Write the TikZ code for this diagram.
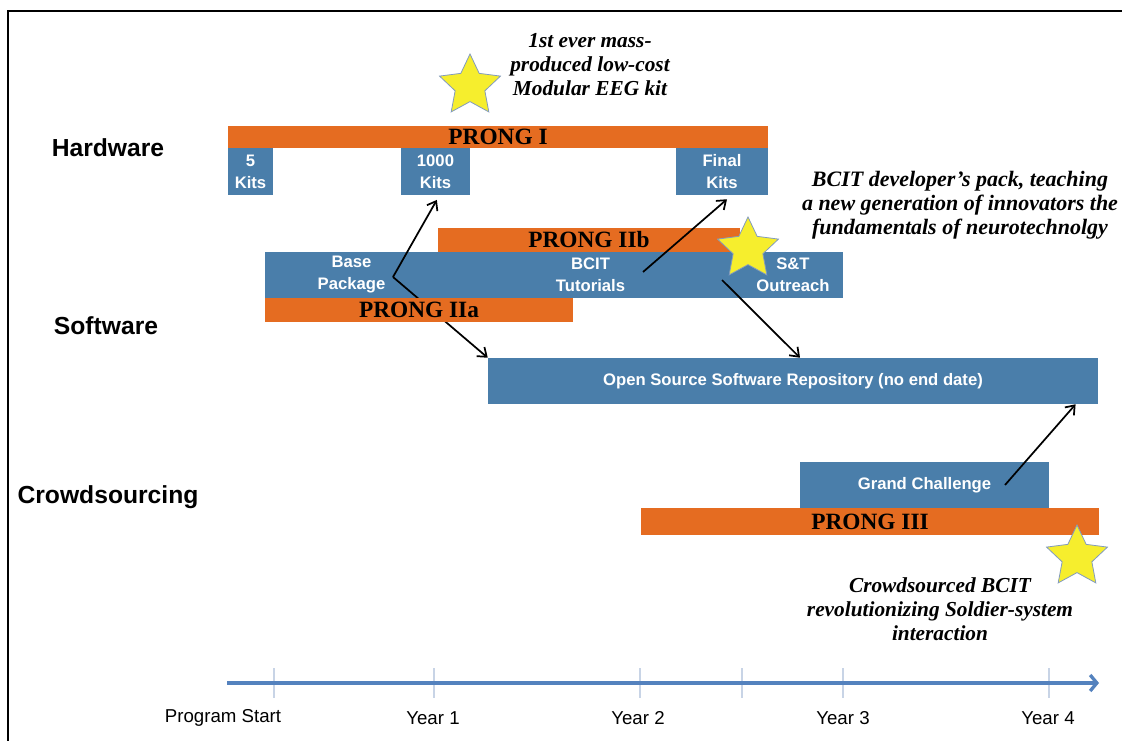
\documentclass[tikz,border=0pt]{standalone}
\usepackage{fontspec}
\setmainfont{Liberation Serif}
\setsansfont{Liberation Sans}
\usetikzlibrary{shapes.geometric,arrows.meta}
\definecolor{prong}{RGB}{229,108,33}
\definecolor{boxblue}{RGB}{74,126,170}
\definecolor{staryellow}{RGB}{246,238,45}
\definecolor{staredge}{RGB}{130,155,190}
\definecolor{axisblue}{RGB}{84,130,190}
\definecolor{tickgray}{RGB}{200,212,230}
\begin{document}
\begin{tikzpicture}[x=0.75pt,y=-0.75pt,
  bluebox/.style={fill=boxblue, inner sep=0pt, text=white, font=\sffamily\bfseries\fontsize{12.5}{16.5}\selectfont, align=center, minimum height=34.5pt},
  prongbar/.style={fill=prong, inner sep=0pt, text=black, font=\rmfamily\bfseries\fontsize{17.5}{18}\selectfont},
  rowlabel/.style={font=\sffamily\bfseries\fontsize{18.5}{20}\selectfont},
  note/.style={font=\rmfamily\bfseries\itshape\fontsize{16}{18}\selectfont, align=center},
  yearlabel/.style={font=\sffamily\fontsize{14}{16}\selectfont},
  starshape/.style={star, star points=5, star point ratio=2.05, minimum size=48pt, inner sep=0pt, fill=staryellow, draw=staredge, line width=0.6pt},
  conn/.style={-{Straight Barb[length=6pt,width=9pt]}, line width=1.3pt},
  ticks/.style={draw=tickgray, line width=0.8pt},
  axisline/.style={draw=axisblue, line width=2.5pt, -{Straight Barb[length=5pt,width=12pt]}}
]
\useasboundingbox (0,0) rectangle (1122,741);
\fill[white] (0,0) rectangle (1122,741);
\draw[line width=1.6pt] (1122,11) -- (8,11) -- (8,741);

% blue boxes
\node[bluebox, minimum width=33.75pt, minimum height=35.25pt] (k5) at (250.5,171.5) {5\\Kits};
\node[bluebox, minimum width=51.75pt, minimum height=35.25pt] (k1000) at (435.5,171.5) {1000\\Kits};
\node[bluebox, minimum width=69pt, minimum height=35.25pt] (kfin) at (722,171.5) {Final\\Kits};
\node[bluebox, minimum width=129.75pt] (base) at (351.5,275) {Base\\Package};
\node[bluebox, minimum width=228.75pt] (tut) at (590.5,275) {BCIT\\Tutorials};
\node[bluebox, minimum width=75pt] (st) at (793,275) {S\&T\\Outreach};
\node[bluebox, minimum width=457.5pt] (oss) at (793,381) {Open Source Software Repository (no end date)};
\node[bluebox, minimum width=186.75pt] (gc) at (924.5,485) {Grand Challenge};

% arrows behind PRONG IIa
\coordinate (bp) at (393,277);
\draw[conn] (bp) -- ([shift={(1pt,-3.5pt)}]k1000.south);
\draw[conn] (bp) -- (oss.north west);

% orange bars
\node[prongbar, minimum width=405pt, minimum height=16.5pt] (p1) at (498,137) {PRONG I};
\node[prongbar, minimum width=226.5pt, minimum height=18pt] (p2b) at (589,240) {PRONG IIb};
\node[prongbar, minimum width=231pt, minimum height=18pt] (p2a) at (419,310) {PRONG IIa};
\node[prongbar, minimum width=343.5pt, minimum height=20.25pt] (p3) at (870,521.5) {PRONG III};

% other arrows
\coordinate (a3) at (643,272);
\draw[conn] (a3) -- ([shift={(3.75pt,-3pt)}]kfin.south);
\coordinate (a4) at (722,280);
\draw[conn] (a4) -- ([xshift=5.25pt]oss.north);
\coordinate (a5) at (1005,485);
\draw[conn] (a5) -- ([xshift=-17pt]oss.south east);

% stars
\node[starshape] (s1) at (470,86) {};
\node[starshape] (s2) at (748,249) {};
\node[starshape] (s3) at (1077,557) {};

% row labels
\node[rowlabel] (hw) at (108,148) {Hardware};
\node[rowlabel] (sw) at (106,326) {Software};
\node[rowlabel] (cs) at (108,497) {Crowdsourcing};

% notes
\node[note] (n1) at (590,65) {1st ever mass-\\produced low-cost\\Modular EEG kit};
\node[note, font=\rmfamily\bfseries\itshape\fontsize{16.5}{18}\selectfont] (n2) at (960,205) {BCIT developer's pack, teaching\\a new generation of innovators the\\fundamentals of neurotechnolgy};
\node[note] (n3) at (940,609) {Crowdsourced BCIT\\revolutionizing Soldier-system\\interaction};

% axis
\foreach \x in {274,434,640,742,843,1049} \draw[ticks] (\x,668) -- (\x,698);
\coordinate (ax0) at (227,683);
\coordinate (ax1) at (1099,683);
\draw[axisline] (ax0) -- (ax1);
\node[yearlabel] (l0) at (223,718) {Program Start};
\node[yearlabel] (l1) at (433,718) {Year 1};
\node[yearlabel] (l2) at (638,718) {Year 2};
\node[yearlabel] (l3) at (843,718) {Year 3};
\node[yearlabel] (l4) at (1048,718) {Year 4};
\end{tikzpicture}
\end{document}
